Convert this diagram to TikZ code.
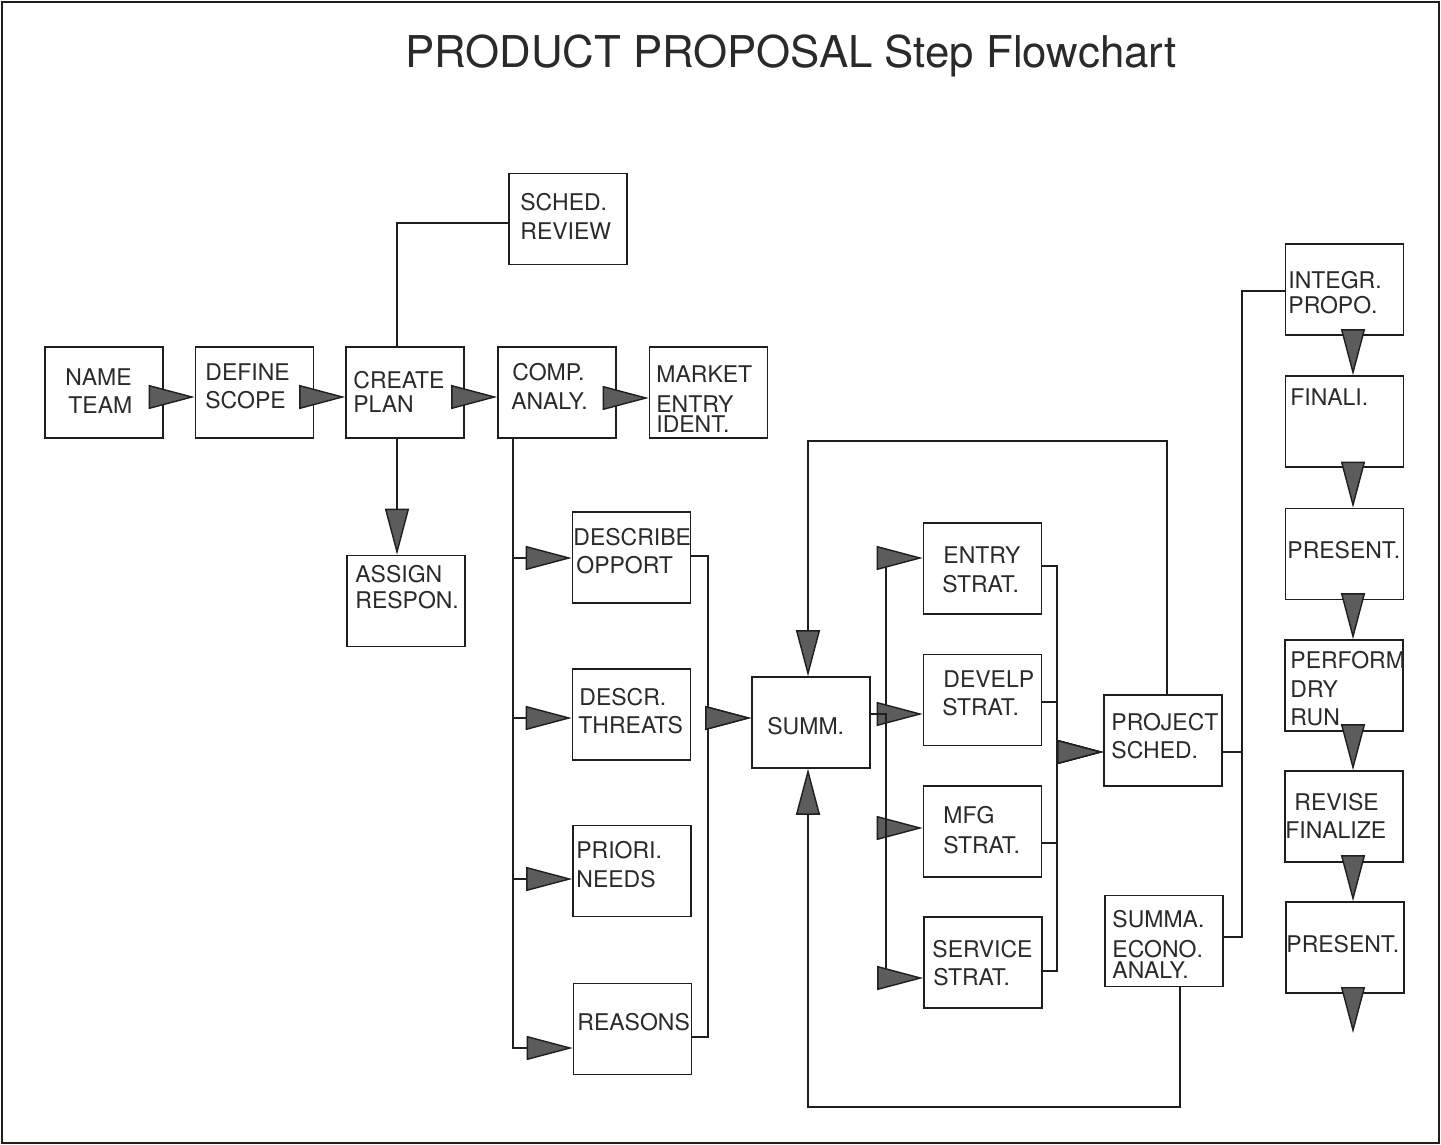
\documentclass[tikz,border=0pt]{standalone}
\usepackage{fontspec}
\setmainfont{TeX Gyre Heros}
\usetikzlibrary{arrows.meta}
\definecolor{inkc}{HTML}{1E1E1E}
\definecolor{textc}{HTML}{2A2A2A}
\definecolor{headfill}{HTML}{5C5C5C}
\begin{document}
\begin{tikzpicture}[x=0.5pt,y=-0.5pt,
  stepbox/.style={draw=inkc, line width=0.8pt, inner sep=0pt,
    minimum width=59pt, minimum height=45.5pt},
  txt/.style={font=\fontsize{11.5}{14}\selectfont, text=textc, inner sep=0pt, anchor=base west},
  link/.style={draw=inkc, line width=0.7pt},
  flow/.style={link, -{Triangle[length=23pt,width=12pt,fill=headfill]}}]
\useasboundingbox (0,0) rectangle (1441,1145);
% frame and title
\draw[inkc, line width=0.8pt] (2,2) rectangle (1439,1143);
\node[font=\fontsize{21.9}{26}\selectfont, text=textc, inner sep=0pt, anchor=base] (title) at (791,68)
  {PRODUCT PROPOSAL Step Flowchart};

% step boxes
\node[stepbox] (name)     at (104,392.5)  {};
\node[stepbox] (define)   at (254.5,392.5) {};
\node[stepbox] (create)   at (405,392.5)  {};
\node[stepbox] (comp)     at (557,392.5)  {};
\node[stepbox] (market)   at (708.5,392.5) {};
\node[stepbox] (sched)    at (568,219)    {};
\node[stepbox] (assign)   at (406,601)    {};
\node[stepbox] (describe) at (631.5,557.5) {};
\node[stepbox] (threats)  at (631.5,714.5) {};
\node[stepbox] (priori)   at (632,871)    {};
\node[stepbox] (reasons)  at (632.5,1029) {};
\node[stepbox] (summ)     at (811,722.5)  {};
\node[stepbox] (entry)    at (982.5,568.5) {};
\node[stepbox] (develp)   at (982.5,700)  {};
\node[stepbox] (mfg)      at (982.5,831.5) {};
\node[stepbox] (service)  at (983,962.5)  {};
\node[stepbox] (project)  at (1163,740.5) {};
\node[stepbox] (summa)    at (1164,941)   {};
\node[stepbox] (integr)   at (1344.5,289.5) {};
\node[stepbox] (finali)   at (1344.5,421.5) {};
\node[stepbox] (presenta) at (1344.5,554)  {};
\node[stepbox] (perform)  at (1344,685.5)  {};
\node[stepbox] (revise)   at (1344,816.5)  {};
\node[stepbox] (presentb) at (1345,947.5)  {};

% box texts
\node[txt] (name-1) at (65,385) {NAME};
\node[txt] (name-2) at (68,413) {TEAM};
\node[txt] (define-1) at (205,380) {DEFINE};
\node[txt] (define-2) at (205,408) {SCOPE};
\node[txt] (create-1) at (353,388) {CREATE};
\node[txt] (create-2) at (353,412) {PLAN};
\node[txt] (comp-1) at (512,380) {COMP.};
\node[txt] (comp-2) at (511,409) {ANALY.};
\node[txt] (market-1) at (656,382) {MARKET};
\node[txt] (market-2) at (656,412) {ENTRY};
\node[txt] (market-3) at (656,432) {IDENT.};
\node[txt] (sched-1) at (520,210) {SCHED.};
\node[txt] (sched-2) at (520,239) {REVIEW};
\node[txt] (assign-1) at (355,582) {ASSIGN};
\node[txt] (assign-2) at (355,608) {RESPON.};
\node[txt] (describe-1) at (573,545) {DESCRIBE};
\node[txt] (describe-2) at (576,573) {OPPORT};
\node[txt] (threats-1) at (579,705) {DESCR.};
\node[txt] (threats-2) at (578,733) {THREATS};
\node[txt] (priori-1) at (576,858) {PRIORI.};
\node[txt] (priori-2) at (576,887) {NEEDS};
\node[txt] (reasons-1) at (577,1030) {REASONS};
\node[txt] (summ-1) at (767,734) {SUMM.};
\node[txt] (entry-1) at (943,563) {ENTRY};
\node[txt] (entry-2) at (942,592) {STRAT.};
\node[txt] (develp-1) at (943,687) {DEVELP};
\node[txt] (develp-2) at (942,715) {STRAT.};
\node[txt] (mfg-1) at (943,823) {MFG};
\node[txt] (mfg-2) at (943,853) {STRAT.};
\node[txt] (service-1) at (932,957) {SERVICE};
\node[txt] (service-2) at (933,985) {STRAT.};
\node[txt] (project-1) at (1111,730) {PROJECT};
\node[txt] (project-2) at (1111,758) {SCHED.};
\node[txt] (summa-1) at (1112,927) {SUMMA.};
\node[txt] (summa-2) at (1112,957) {ECONO.};
\node[txt] (summa-3) at (1112,978) {ANALY.};
\node[txt] (integr-1) at (1288,288) {INTEGR.};
\node[txt] (integr-2) at (1288,313) {PROPO.};
\node[txt] (finali-1) at (1290,405) {FINALI.};
\node[txt] (presenta-1) at (1287,558) {PRESENT.};
\node[txt] (perform-1) at (1290,668) {PERFORM};
\node[txt] (perform-2) at (1290,697) {DRY};
\node[txt] (perform-3) at (1290,725) {RUN};
\node[txt] (revise-1) at (1294,810) {REVISE};
\node[txt] (revise-2) at (1285,838) {FINALIZE};
\node[txt] (presentb-1) at (1286,952) {PRESENT.};

% top row
\draw[flow] (name.east |- 0,397) -- (define.west |- 0,397);
\draw[flow] (define.east |- 0,397) -- (create.west |- 0,397);
\draw[flow] (create.east |- 0,397) -- (comp.west |- 0,397);
\draw[flow] (comp.east |- 0,398) -- (market.west |- 0,398);
\draw[link] (create.north -| 397,0) |- (sched.west |- 0,223);
\draw[flow] (create.south -| 397,0) -- (assign.north -| 397,0);

% analysis branches
\draw[flow] (comp.south -| 513,0) |- (describe.west |- 0,558);
\draw[flow] (comp.south -| 513,0) |- (threats.west |- 0,718);
\draw[flow] (comp.south -| 513,0) |- (priori.west |- 0,879);
\draw[flow] (comp.south -| 513,0) |- (reasons.west |- 0,1048);
\draw[flow] (describe.east |- 0,556) -| (708,718) -- (summ.west |- 0,718);
\draw[flow] (reasons.east |- 0,1037) -| (708,718) -- (summ.west |- 0,718);

% strategies
\draw[flow] (summ.east |- 0,714) -| (886,558) -- (entry.west |- 0,558);
\draw[flow] (summ.east |- 0,714) -- (develp.west |- 0,714);
\draw[flow] (summ.east |- 0,714) -| (886,828) -- (mfg.west |- 0,828);
\draw[flow] (summ.east |- 0,714) -| (886,978) -- (service.west |- 0,978);
\draw[flow] (entry.east |- 0,566) -| (1057,752) -- (project.west |- 0,752);
\draw[flow] (develp.east |- 0,702) -| (1057,752) -- (project.west |- 0,752);
\draw[flow] (mfg.east |- 0,843) -| (1057,752) -- (project.west |- 0,752);
\draw[flow] (service.east |- 0,971) -| (1057,752) -- (project.west |- 0,752);

% feedback loops into the summary
\draw[flow] (project.north -| 1167,0) |- (808,441) -- (summ.north -| 808,0);
\draw[flow] (summa.south -| 1180,0) |- (808,1107) -- (summ.south -| 808,0);

% proposal column
\draw[link] (project.east |- 0,752) -| (1242,291) -- (integr.west |- 0,291);
\draw[link] (summa.east |- 0,937) -| (1242,291) -- (integr.west |- 0,291);
\draw[flow] (integr.south -| 1353,0) -- (finali.north -| 1353,0);
\draw[flow] (finali.south -| 1353,0) -- (presenta.north -| 1353,0);
\draw[flow] (presenta.south -| 1353,0) -- (perform.north -| 1353,0);
\draw[flow] (perform.south -| 1353,0) -- (revise.north -| 1353,0);
\draw[flow] (revise.south -| 1353,0) -- (presentb.north -| 1353,0);
\coordinate (done) at (1353,1033);
\draw[flow] (presentb.south -| 1353,0) -- (done);
\end{tikzpicture}
\end{document}
